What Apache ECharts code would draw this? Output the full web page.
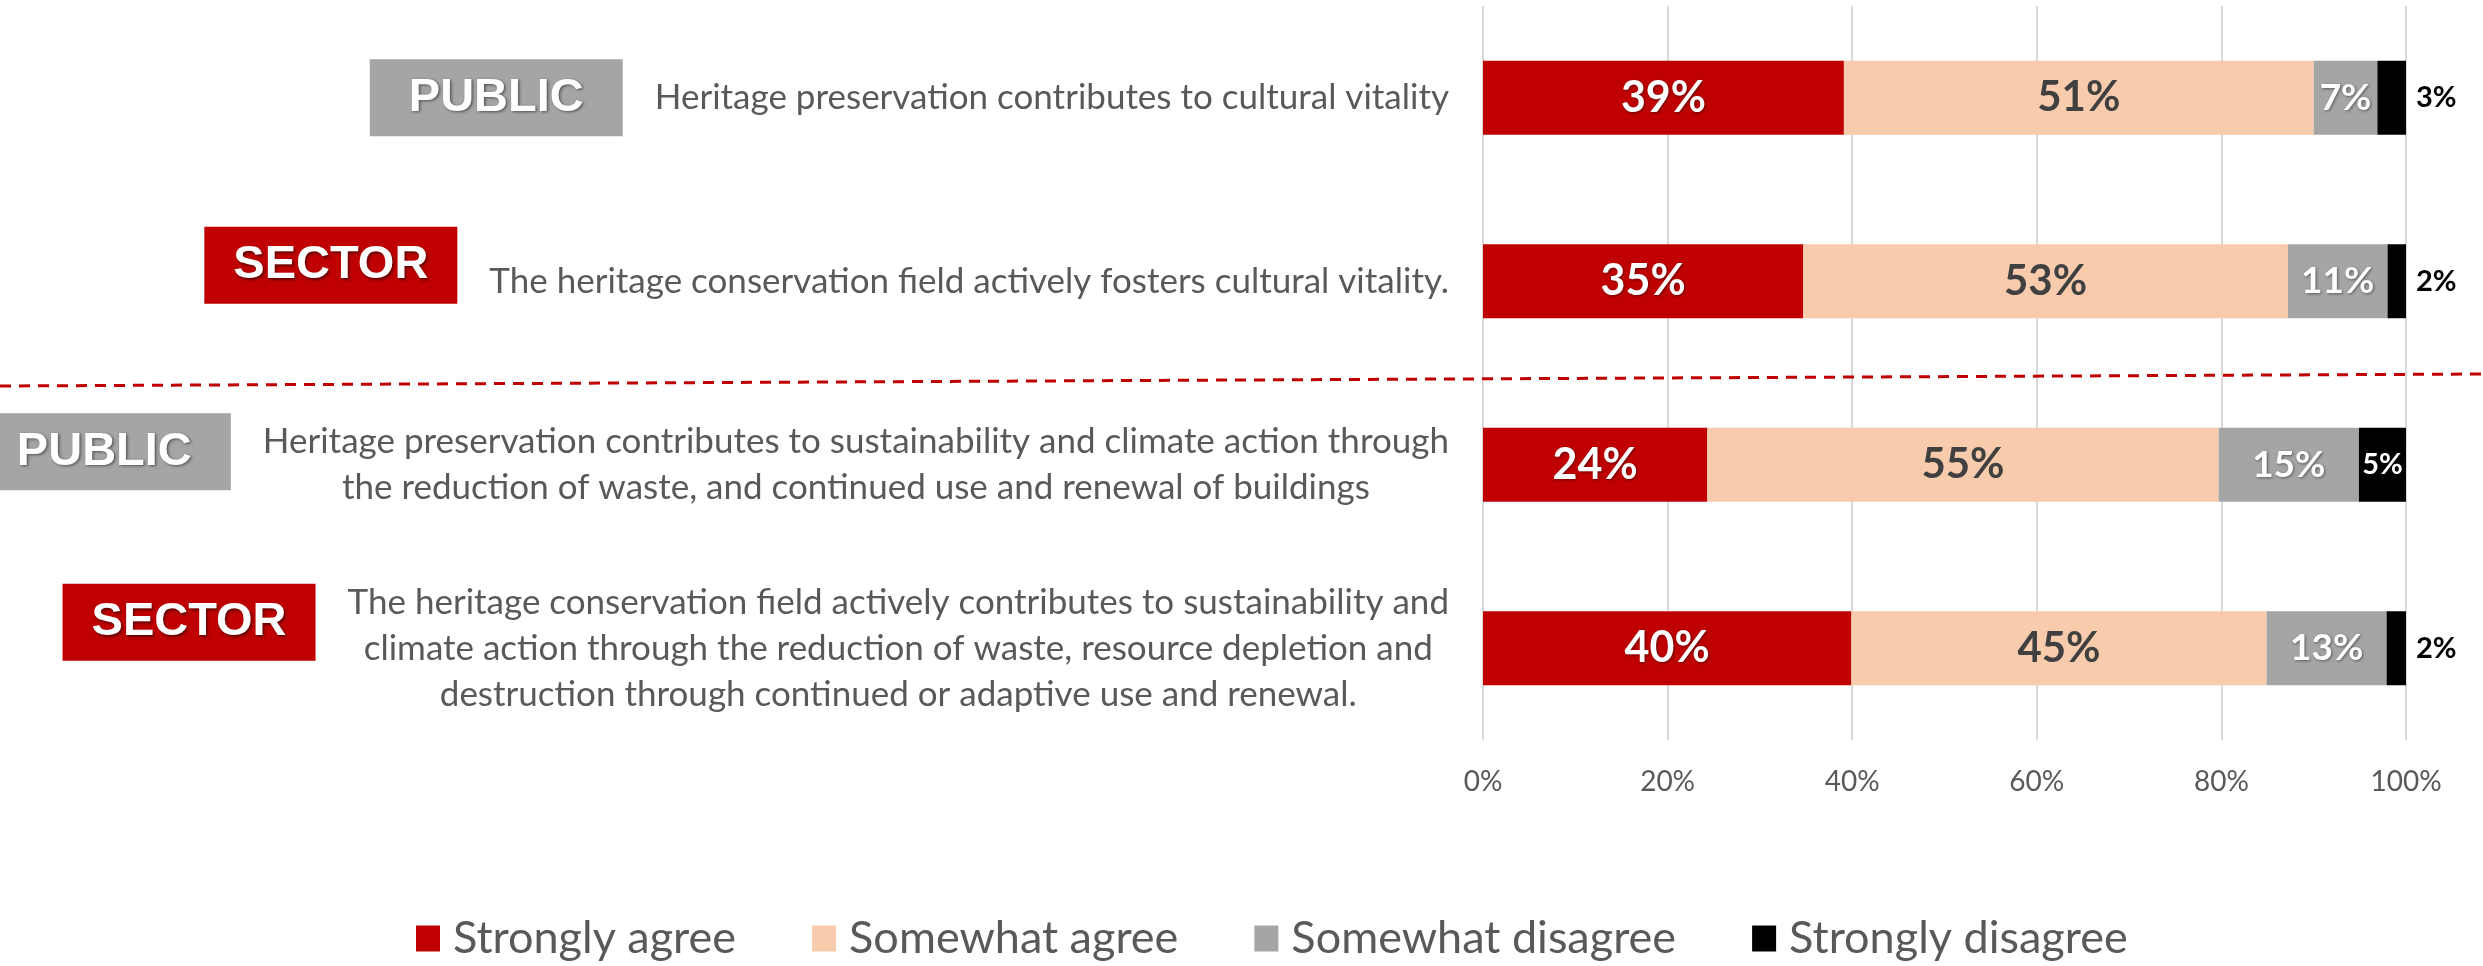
<!DOCTYPE html>
<html>
<head>
<meta charset="utf-8">
<script src="https://cdn.jsdelivr.net/npm/echarts@6/dist/echarts.min.js"></script>
<style>
html,body{margin:0;padding:0;background:#fff;}
#chart{width:2483px;height:966px;}
</style>
</head>
<body>
<div id="chart"></div>
<script>
// ---- data ----
const statements = [
  'Heritage preservation contributes to cultural vitality',
  'The heritage conservation field actively fosters cultural vitality.',
  'Heritage preservation contributes to sustainability and climate action through\nthe reduction of waste, and continued use and renewal of buildings',
  'The heritage conservation field actively contributes to sustainability and\nclimate action through the reduction of waste, resource depletion and\ndestruction through continued or adaptive use and renewal.'
];
const audiences = ['PUBLIC', 'SECTOR', 'PUBLIC', 'SECTOR'];
const seriesNames = ['Strongly agree', 'Somewhat agree', 'Somewhat disagree', 'Strongly disagree'];
const stronglyAgree    = [39.1, 34.7, 24.3, 39.9];
const somewhatAgree    = [50.9, 52.5, 55.4, 45.0];
const somewhatDisagree = [6.9, 10.8, 15.2, 13.0];
const stronglyDisagree = [3.1, 2.0, 5.1, 2.1];
const xTicks = [0, 20, 40, 60, 80, 100];

// ---- styles ----
const colors = ['#C00000', '#F8CBAD', '#A5A5A5', '#000000'];
const FONT = 'Lato';
const shadow = { textShadowColor: 'rgba(0,0,0,0.45)', textShadowBlur: 3, textShadowOffsetX: 1, textShadowOffsetY: 1 };
const badgeLift = [0, 32, 26, 52]; // extra invisible line height to lift badge

const chart = echarts.init(document.getElementById('chart'), null, { renderer: 'canvas' });

function pctLabel(p) { return Math.round(p.value) + '%'; }

const labelStyles = [
  Object.assign({ show: true, position: 'inside', color: '#fff', fontFamily: FONT, fontWeight: 'bold', fontSize: 43, formatter: pctLabel }, shadow),
  { show: true, position: 'inside', color: '#404040', fontFamily: FONT, fontWeight: 'bold', fontSize: 42, formatter: pctLabel },
  Object.assign({ show: true, position: 'inside', color: '#fff', fontFamily: FONT, fontWeight: 'bold', fontSize: 37, formatter: pctLabel }, shadow),
  { show: true, position: 'right', distance: 10, color: '#000', fontFamily: FONT, fontWeight: 'bold', fontSize: 29, formatter: pctLabel }
];

const seriesData = [stronglyAgree, somewhatAgree, somewhatDisagree, stronglyDisagree];

const series = seriesData.map((arr, si) => ({
  name: seriesNames[si],
  type: 'bar',
  stack: 'total',
  barWidth: 74,
  yAxisIndex: 0,
  itemStyle: { color: colors[si] },
  label: labelStyles[si],
  data: arr.map(v => (si === 3 && v >= 4)
    ? { value: v, label: { position: 'inside', color: '#fff' } }
    : v)
}));

const badgeBase = {
  color: '#fff', fontFamily: 'Liberation Sans', fontWeight: 'bold', fontSize: 47,
  width: 253, height: 77, align: 'center', verticalAlign: 'middle',
  textShadowColor: 'rgba(0,0,0,0.5)', textShadowBlur: 3, textShadowOffsetX: 1.5, textShadowOffsetY: 1.5
};

const option = {
  animation: false,
  backgroundColor: '#ffffff',
  textStyle: { fontFamily: FONT },
  grid: { left: 1483, right: 77, top: 6, bottom: 226, containLabel: false, outerBoundsMode: 'none' },
  legend: {
    data: seriesNames,
    left: 411,
    top: 911,
    itemWidth: 24,
    itemHeight: 26,
    itemGap: 76,
    icon: 'rect',
    textStyle: { fontFamily: FONT, fontSize: 45, color: '#595959', padding: [0, 0, 0, 8] }
  },
  xAxis: {
    type: 'value',
    min: 0, max: 100, interval: 20,
    axisLine: { show: false },
    axisTick: { show: false },
    splitLine: { show: true, lineStyle: { color: '#D9D9D9', width: 2 } },
    axisLabel: {
      margin: 28, color: '#595959', fontFamily: FONT, fontSize: 28,
      formatter: v => (xTicks.indexOf(v) >= 0 ? v + '%' : '')
    }
  },
  yAxis: [
    {
      type: 'category', inverse: true, data: statements, position: 'left',
      axisLine: { show: false }, axisTick: { show: false }, splitLine: { show: false },
      axisLabel: {
        interval: 0, margin: 34,
        formatter: v => v.split('\n').map(l => '{c|' + l + '}').join('\n'),
        rich: { c: { fontFamily: FONT, fontSize: 35, color: '#595959', align: 'center', lineHeight: 46 } }
      }
    },
    {
      type: 'category', inverse: true, data: statements, position: 'left',
      axisLine: { show: false }, axisTick: { show: false }, splitLine: { show: false },
      axisLabel: {
        interval: 0, margin: 34,
        formatter: (v, i) => {
          const lines = v.split('\n');
          let longest = lines[0];
          lines.forEach(l => { if (l.length > longest.length) longest = l; });
          const kind = audiences[i];
          let s = '{' + kind + '|' + kind + '}{sp| }{g|' + longest + '}';
          if (badgeLift[i]) s += '\n{p' + i + '| }';
          return s;
        },
        rich: {
          PUBLIC: Object.assign({}, badgeBase, { backgroundColor: '#A5A5A5' }),
          SECTOR: Object.assign({}, badgeBase, { backgroundColor: '#C00000' }),
          sp: { width: 32, fontSize: 10 },
          g: { fontFamily: FONT, fontSize: 35, color: 'rgba(0,0,0,0)' },
          p1: { height: badgeLift[1], fontSize: 1, lineHeight: badgeLift[1] },
          p2: { height: badgeLift[2], fontSize: 1, lineHeight: badgeLift[2] },
          p3: { height: badgeLift[3], fontSize: 1, lineHeight: badgeLift[3] }
        }
      }
    }
  ],
  graphic: [
    {
      type: 'line', z: 100, silent: true,
      shape: { x1: 0, y1: 386, x2: 2483, y2: 374 },
      style: { stroke: '#C00000', lineWidth: 3, lineDash: [11, 8] }
    }
  ],
  series: series
};

chart.setOption(option);
</script>
</body>
</html>
